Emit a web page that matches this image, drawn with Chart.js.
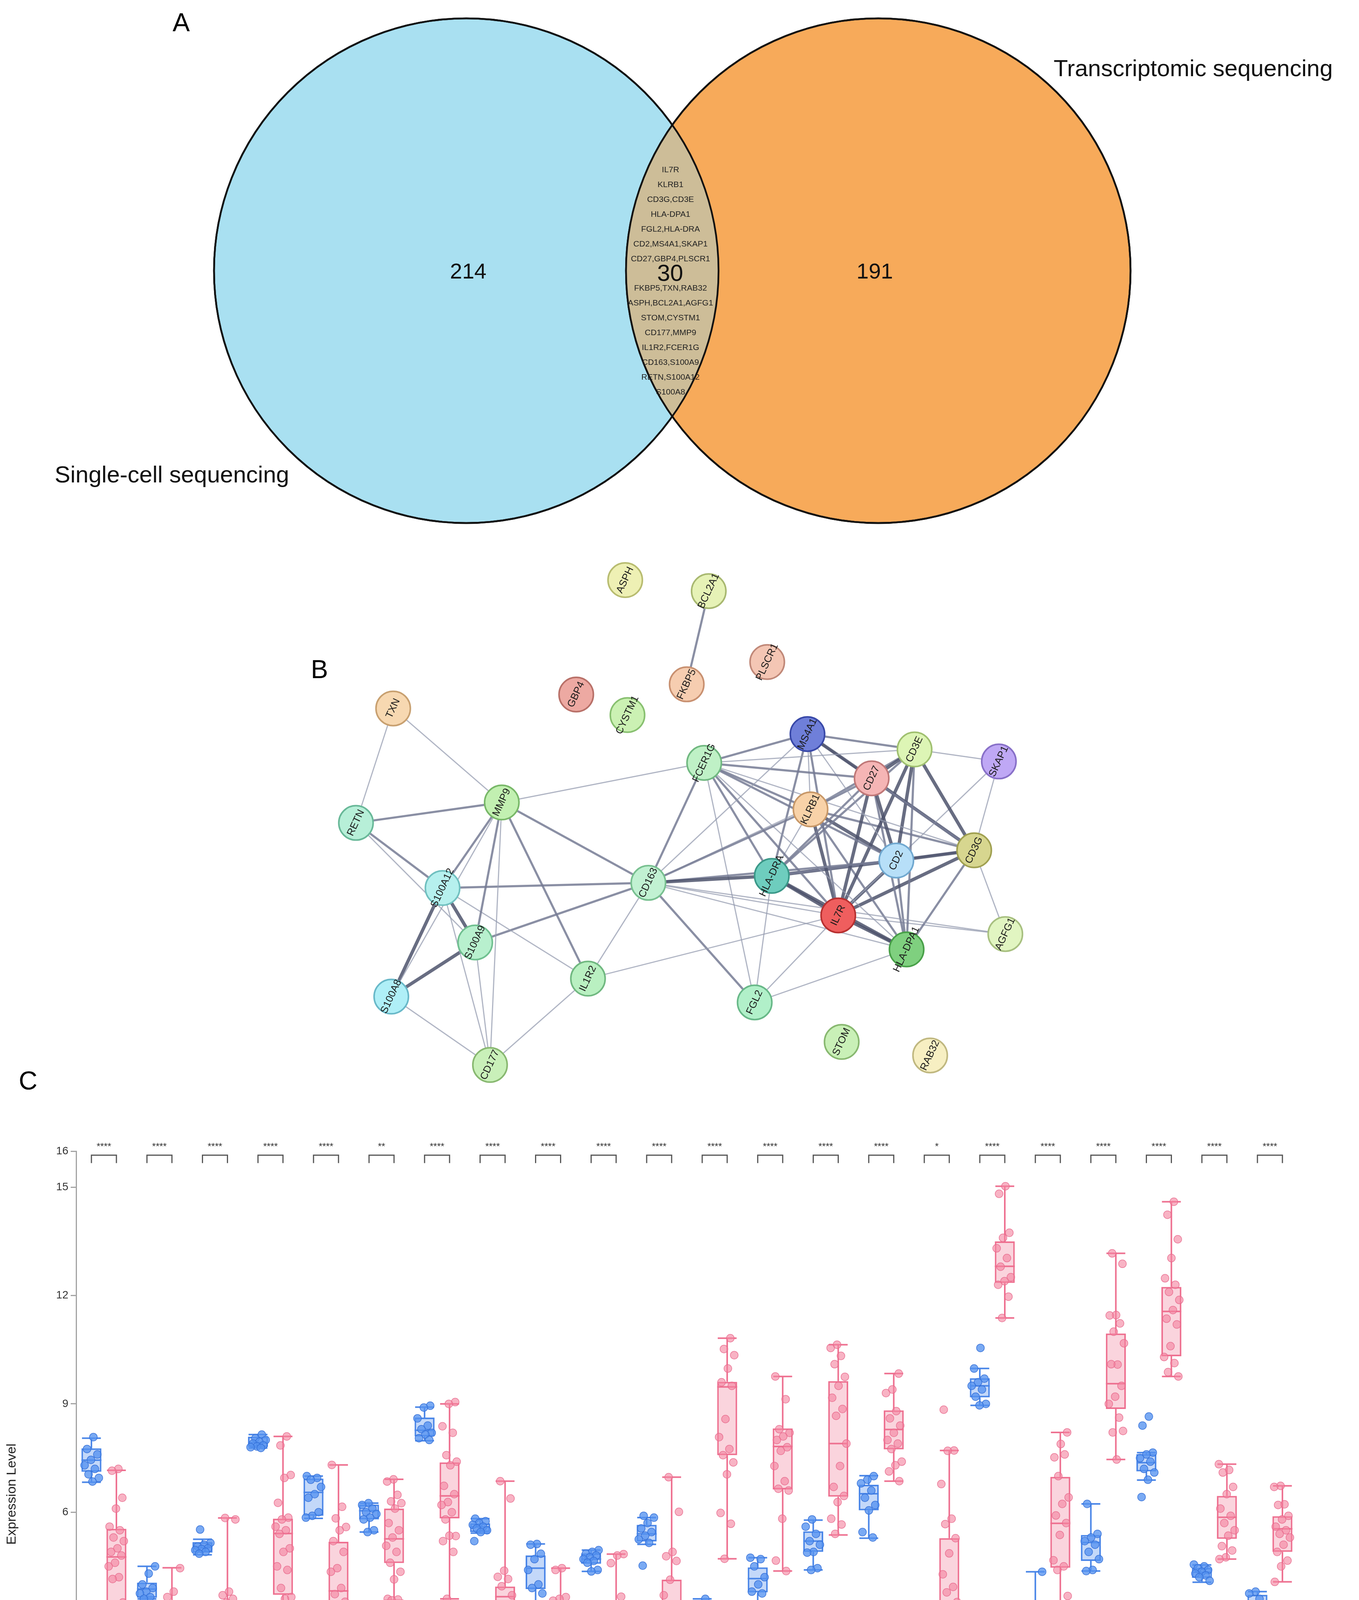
<!DOCTYPE html>
<html>
<head>
<meta charset="utf-8">
<script src="https://cdn.jsdelivr.net/npm/chart.js@4.4.1/dist/chart.umd.min.js"></script>
<style>
  body { margin: 0; background: #fff; width: 3480px; height: 4878px; position: relative; overflow: hidden;
         font-family: "Liberation Sans", Arial, sans-serif; }
  .panel { position: absolute; left: 0; width: 3480px; }
  .letter { position: absolute; font-size: 66px; color: #000; line-height: 1; z-index: 5; }
  .legend { position: absolute; left: 3314px; font-size: 26px; color: #222; z-index: 5; }
  .legend div { height: 38px; display: flex; align-items: center; }
  .legend span.sw { display: inline-block; width: 24px; height: 20px; margin-right: 14px; }
</style>
</head>
<body>
<div class="letter" style="left:442px;top:24px">A</div>
<div class="letter" style="left:796px;top:1680px">B</div>
<div class="letter" style="left:48px;top:2733px">C</div>

<div class="panel" style="top:0;height:1380px"><canvas id="venn"></canvas></div>
<div class="panel" style="top:1380px;height:1500px"><canvas id="network"></canvas></div>
<div class="panel" style="top:2880px;height:1998px"><canvas id="box"></canvas></div>

<div class="legend" style="top:4568px">
  <div><span class="sw" style="background:#8db7f3;border:5px solid #3f7fe6"></span>NC</div>
  <div><span class="sw" style="background:#f7b0c1;border:5px solid #ee6f8f"></span>SEPSIS</div>
</div>

<script>
Chart.defaults.font.family = "'Liberation Sans', Arial, sans-serif";

// ---------- Panel A: Venn ----------
const vennSetLabels = ["Single-cell sequencing", "Transcriptomic sequencing"];
const vennCounts = [214, 191, 30];
const overlapGenesTop = ["IL7R", "KLRB1", "CD3G,CD3E", "HLA-DPA1", "FGL2,HLA-DRA", "CD2,MS4A1,SKAP1", "CD27,GBP4,PLSCR1"];
const overlapGenesBottom = ["FKBP5,TXN,RAB32", "ASPH,BCL2A1,AGFG1", "STOM,CYSTM1", "CD177,MMP9", "IL1R2,FCER1G",
                            "CD163,S100A9", "RETN,S100A12", "S100A8"];

// ---------- Panel B: network ----------
const nodeNames = ["ASPH", "BCL2A1", "PLSCR1", "FKBP5", "GBP4", "CYSTM1", "TXN", "MS4A1", "CD3E", "SKAP1",
  "FCER1G", "CD27", "KLRB1", "MMP9", "RETN", "CD3G", "CD2", "HLA-DRA", "CD163", "S100A12",
  "IL7R", "S100A9", "AGFG1", "HLA-DPA1", "IL1R2", "S100A8", "FGL2", "STOM", "RAB32", "CD177"];
const nodeX = [1597, 1817, 1971, 1759, 1468, 1603, 986, 2077, 2359, 2581,
  1805, 2246, 2085, 1272, 888, 2516, 2311, 1983, 1658, 1116,
  2158, 1202, 2598, 2338, 1499, 981, 1938, 2167, 2400, 1241];
const nodeY = [1441, 1471, 1665, 1726, 1754, 1810, 1792, 1862, 1904, 1937,
  1941, 1983, 2068, 2049, 2105, 2180, 2208, 2250, 2269, 2283,
  2358, 2432, 2409, 2451, 2531, 2580, 2596, 2704, 2741, 2767];
const nodeFill = ["#eef0b4", "#e6f2b6", "#f4c6b4", "#f6cdb0", "#eda9a2", "#cbf1b3", "#f7d8b1", "#6f7fd9", "#ddf5b5", "#bfa8f5",
  "#bff1c6", "#f5b5b5", "#f8d2a8", "#c2f0b1", "#b7efd8", "#d7d68f", "#b7dff8", "#6ecdbe", "#c1f1d2", "#b6f0ee",
  "#ef5e5e", "#b8f0ce", "#e1f5c1", "#7fd07f", "#b9f0c1", "#afeff7", "#b1f0c9", "#c9f0b7", "#f7efc2", "#c9f0b9"];
const nodeStroke = ["#b8bc70", "#a8b870", "#c08878", "#c89070", "#b87068", "#88c070", "#c8a070", "#3848a8", "#a0c070", "#8870c8",
  "#70b880", "#c07878", "#c89868", "#78b868", "#68b898", "#a0a050", "#70a8d0", "#3a9888", "#78c090", "#70c0c0",
  "#b83030", "#70c090", "#a8c080", "#48a048", "#70b880", "#68b8c8", "#68b888", "#88b870", "#c0b880", "#88b870"];
const edges = [
  ["BCL2A1", "FKBP5", 2],
  ["TXN", "RETN", 1], ["TXN", "MMP9", 1],
  ["RETN", "MMP9", 2], ["RETN", "S100A12", 2], ["RETN", "S100A9", 1],
  ["MMP9", "S100A12", 2], ["MMP9", "S100A9", 2], ["MMP9", "S100A8", 1], ["MMP9", "IL1R2", 2],
  ["MMP9", "CD163", 2], ["MMP9", "FCER1G", 1], ["MMP9", "CD177", 1],
  ["S100A12", "CD163", 2], ["S100A12", "S100A9", 3], ["S100A12", "S100A8", 3], ["S100A12", "IL1R2", 1], ["S100A12", "CD177", 1],
  ["S100A9", "S100A8", 3], ["S100A9", "CD163", 2], ["S100A9", "CD177", 1],
  ["S100A8", "CD177", 1],
  ["IL1R2", "CD177", 1], ["IL1R2", "CD163", 1], ["IL1R2", "IL7R", 1],
  ["CD163", "FCER1G", 2], ["CD163", "HLA-DRA", 3], ["CD163", "CD2", 2], ["CD163", "KLRB1", 2], ["CD163", "CD27", 1],
  ["CD163", "IL7R", 1], ["CD163", "HLA-DPA1", 1], ["CD163", "FGL2", 2], ["CD163", "AGFG1", 1], ["CD163", "MS4A1", 1],
  ["FCER1G", "MS4A1", 2], ["FCER1G", "CD3E", 1], ["FCER1G", "CD27", 2], ["FCER1G", "KLRB1", 2], ["FCER1G", "HLA-DRA", 2],
  ["FCER1G", "IL7R", 2], ["FCER1G", "CD2", 2], ["FCER1G", "CD3G", 1], ["FCER1G", "FGL2", 1], ["FCER1G", "HLA-DPA1", 1],
  ["MS4A1", "CD3E", 2], ["MS4A1", "CD27", 3], ["MS4A1", "KLRB1", 1], ["MS4A1", "HLA-DRA", 2], ["MS4A1", "IL7R", 2],
  ["MS4A1", "CD2", 1], ["MS4A1", "CD3G", 2],
  ["CD3E", "SKAP1", 1], ["CD3E", "CD27", 3], ["CD3E", "KLRB1", 2], ["CD3E", "CD2", 3], ["CD3E", "CD3G", 3],
  ["CD3E", "IL7R", 3], ["CD3E", "HLA-DRA", 2], ["CD3E", "HLA-DPA1", 2],
  ["SKAP1", "CD3G", 1], ["SKAP1", "IL7R", 1],
  ["CD27", "KLRB1", 2], ["CD27", "CD2", 3], ["CD27", "CD3G", 3], ["CD27", "IL7R", 3], ["CD27", "HLA-DRA", 2], ["CD27", "HLA-DPA1", 2],
  ["KLRB1", "CD2", 3], ["KLRB1", "CD3G", 2], ["KLRB1", "IL7R", 3], ["KLRB1", "HLA-DRA", 1], ["KLRB1", "HLA-DPA1", 2],
  ["CD3G", "CD2", 3], ["CD3G", "IL7R", 3], ["CD3G", "HLA-DRA", 2], ["CD3G", "HLA-DPA1", 2], ["CD3G", "AGFG1", 1],
  ["CD2", "HLA-DRA", 3], ["CD2", "IL7R", 3], ["CD2", "HLA-DPA1", 2],
  ["HLA-DRA", "IL7R", 3], ["HLA-DRA", "HLA-DPA1", 3], ["HLA-DRA", "FGL2", 1],
  ["IL7R", "HLA-DPA1", 3], ["IL7R", "FGL2", 1], ["IL7R", "AGFG1", 1],
  ["HLA-DPA1", "FGL2", 1]
];

// ---------- Panel C: box plots ----------
const genes = ["IL7R", "KLRB1", "CD3G", "CD3E", "HLA-DPA1", "FGL2", "HLA-DRA", "CD2", "MS4A1", "SKAP1", "CD27",
  "CD177", "MMP9", "IL1R2", "FCER1G", "CD163", "S100A9", "RETN", "S100A12", "S100A8", "AGFG1", "TXN"];
const significance = ["****", "****", "****", "****", "****", "**", "****", "****", "****", "****", "****",
  "****", "****", "****", "****", "*", "****", "****", "****", "****", "****", "****"];
const yTicks = [-3, 0, 3, 6, 9, 12, 15, 16];

const ncMin = [6.83, 3.6, 4.82, 7.78, 5.83, 5.45, 7.98, 5.42, 3.19, 4.36, 5.11, -0.01, 3.12, 4.4, 5.28, 2.58, 8.96, -0.54, 4.37, 6.89, 4.06, 2.92];
const ncQ1 = [7.12, 3.63, 4.88, 7.81, 5.9, 5.8, 8.1, 5.45, 3.87, 4.57, 5.19, 0.65, 3.78, 4.9, 6.05, 2.69, 9.18, 0.38, 4.65, 7.13, 4.18, 3.0];
const ncMed = [7.44, 3.87, 5.02, 7.93, 6.55, 6.04, 8.27, 5.59, 4.45, 4.7, 5.4, 1.43, 4.16, 5.2, 6.51, 2.97, 9.5, 0.97, 5.16, 7.37, 4.34, 3.26];
const ncQ3 = [7.77, 4.05, 5.17, 8.09, 6.93, 6.21, 8.62, 5.69, 4.8, 4.86, 5.65, 2.65, 4.47, 5.47, 6.76, 3.16, 9.71, 3.19, 5.37, 7.61, 4.46, 3.71];
const ncMax = [8.05, 4.5, 5.25, 8.15, 7.0, 6.25, 8.91, 5.82, 5.12, 4.95, 5.85, 3.6, 4.74, 5.78, 7.01, 3.45, 9.98, 4.35, 6.23, 7.65, 4.54, 3.8];

const sepMin = [0.54, -1.43, -2.55, 0.95, 1.94, 3.56, 3.6, -0.19, -0.55, -0.18, -0.55, 4.71, 4.37, 5.37, 6.86, 0.19, 11.38, 1.99, 7.46, 9.76, 4.7, 4.07];
const sepQ1 = [3.43, -0.01, 0.62, 3.71, 3.08, 4.59, 5.83, 1.77, 1.13, 1.68, 1.85, 7.58, 6.63, 6.43, 7.74, 3.05, 12.35, 4.46, 8.86, 10.32, 5.26, 4.9];
const sepMed = [4.76, 0.89, 2.48, 5.41, 3.82, 5.26, 6.45, 3.66, 1.68, 2.43, 2.92, 9.47, 7.82, 7.9, 8.29, 3.51, 12.81, 5.69, 9.56, 11.56, 5.86, 5.54];
const sepQ3 = [5.54, 2.08, 3.43, 5.82, 5.18, 6.1, 7.38, 3.94, 3.0, 3.12, 4.13, 9.61, 8.32, 9.63, 8.82, 5.28, 13.5, 6.98, 10.95, 12.24, 6.45, 5.89];
const sepMax = [7.16, 4.46, 5.84, 8.1, 7.31, 6.91, 9.0, 6.86, 4.45, 4.84, 6.97, 10.82, 9.76, 10.64, 9.84, 7.71, 15.03, 8.21, 13.17, 14.6, 7.33, 6.73];

const ncPoints = [
  [8.08, 7.75, 7.6, 7.45, 7.3, 7.2, 7.05, 6.95, 6.85],
  [4.5, 4.3, 4.0, 3.9, 3.8, 3.75, 3.65, 3.6, 2.95],
  [5.52, 5.15, 5.1, 5.05, 5.0, 4.98, 4.95, 4.9, 4.85],
  [8.15, 8.05, 8.0, 7.95, 7.9, 7.85, 7.82, 7.8, 7.78],
  [7.0, 6.95, 6.9, 6.7, 6.5, 6.4, 6.0, 5.9, 5.85],
  [6.25, 6.2, 6.1, 6.0, 5.95, 5.85, 5.8, 5.5, 5.45],
  [8.95, 8.9, 8.6, 8.4, 8.3, 8.2, 8.15, 8.05, 8.0],
  [5.82, 5.75, 5.7, 5.65, 5.6, 5.55, 5.5, 5.45, 5.2],
  [5.12, 5.1, 4.85, 4.7, 4.4, 4.0, 3.9, 3.75, 3.19],
  [4.95, 4.9, 4.85, 4.8, 4.75, 4.7, 4.65, 4.6, 4.4, 4.36],
  [5.9, 5.85, 5.7, 5.55, 5.45, 5.35, 5.25, 5.15, 4.52],
  [3.6, 3.33, 2.65, 1.8, 1.2, 0.65, 0.61, 0.28, -0.01],
  [4.74, 4.7, 4.5, 4.2, 4.0, 3.8, 3.75, 3.12],
  [5.8, 5.6, 5.4, 5.2, 5.1, 4.9, 4.88, 4.45, 4.4],
  [7.0, 6.9, 6.8, 6.6, 6.4, 6.2, 6.05, 5.45, 5.3],
  [3.45, 3.3, 3.2, 3.0, 2.9, 2.7, 2.6, 2.58, 2.0],
  [10.55, 9.98, 9.7, 9.6, 9.5, 9.4, 9.2, 9.0, 8.96],
  [4.35, 3.2, 3.15, 2.79, 1.0, 0.83, 0.54, -0.16, -0.54],
  [6.23, 5.4, 5.3, 5.2, 5.1, 4.9, 4.7, 4.4, 4.37],
  [8.65, 8.4, 7.65, 7.6, 7.5, 7.4, 7.2, 7.1, 6.9, 6.42],
  [4.55, 4.5, 4.45, 4.4, 4.35, 4.3, 4.25, 4.2, 4.1],
  [3.8, 3.75, 3.6, 3.4, 3.3, 3.2, 3.1, 3.0, 2.95, 2.9]
];
const sepPoints = [
  [7.2, 7.15, 6.4, 6.1, 5.6, 5.5, 5.3, 5.2, 5.0, 4.9, 4.8, 4.6, 4.5, 4.2, 4.15, 3.5, 2.67, 2.41, 1.66, 1.55, 1.23, 0.55],
  [4.45, 3.8, 3.65, 2.95, 2.65, 2.1, 2.05, 1.7, 1.6, 1.5, 1.3, 1.0, 0.8, 0.4, 0.2, 0.05, 0.0, -0.45, -0.6, -0.8, -0.9, -1.43],
  [5.84, 5.8, 3.8, 3.7, 3.6, 3.5, 3.2, 3.0, 2.8, 2.5, 2.3, 2.1, 1.9, 1.7, 1.5, 0.7, 0.5, 0.4, 0.3, -0.8, -0.95, -2.55],
  [8.1, 7.85, 7.03, 6.95, 6.26, 5.85, 5.8, 5.6, 5.5, 5.4, 5.0, 4.9, 4.5, 4.4, 3.9, 3.65, 3.6, 2.67, 2.6, 2.5, 1.86, 0.95],
  [7.31, 6.15, 5.83, 5.59, 5.5, 5.2, 4.9, 4.45, 4.35, 3.9, 3.73, 3.52, 3.22, 3.1, 2.94, 2.85, 2.67, 2.29, 1.94],
  [6.91, 6.85, 6.48, 6.3, 6.25, 6.1, 5.7, 5.5, 5.3, 5.07, 4.9, 4.6, 4.35, 4.14, 3.6, 3.58, 3.56],
  [9.05, 9.0, 8.38, 8.2, 7.58, 7.4, 7.3, 6.73, 6.5, 6.28, 6.2, 6.0, 5.8, 5.34, 5.35, 5.2, 4.9, 3.6],
  [6.86, 6.38, 4.38, 4.21, 4.15, 3.95, 3.7, 3.18, 2.8, 2.5, 1.8, 1.75, 1.36, 1.01, 0.53, 0.39, -0.19],
  [4.45, 4.4, 3.65, 3.6, 3.55, 3.0, 2.95, 2.7, 2.6, 2.3, 1.85, 1.7, 1.4, 1.3, 1.15, 1.1, 0.9, 0.8, 0.2, -0.55],
  [4.84, 4.8, 4.59, 3.66, 3.2, 3.15, 3.0, 2.8, 2.7, 2.6, 2.4, 2.2, 1.9, 1.75, 1.7, 0.81, 0.85, 0.69, 0.25, -0.18],
  [6.97, 6.01, 4.9, 4.78, 4.65, 4.13, 3.7, 3.37, 3.29, 2.92, 2.55, 2.39, 2.05, 1.85, 1.64, 1.31, 0.9, 0.24, 0.12, -0.55],
  [10.82, 10.52, 10.35, 9.98, 9.6, 9.5, 8.58, 8.08, 7.75, 7.58, 7.38, 7.05, 5.98, 5.68, 4.71],
  [9.76, 9.13, 8.3, 8.2, 8.1, 8.0, 7.8, 7.7, 7.28, 6.86, 6.65, 6.6, 5.82, 4.66, 4.37],
  [10.64, 10.55, 10.33, 10.1, 9.75, 9.5, 9.17, 8.86, 8.67, 7.9, 7.28, 6.7, 6.45, 6.28, 5.82, 5.66, 5.4],
  [9.84, 9.4, 9.3, 8.8, 8.6, 8.4, 8.2, 8.0, 7.9, 7.75, 7.4, 7.3, 7.13, 6.86],
  [8.84, 7.71, 7.7, 6.78, 5.82, 5.67, 5.28, 4.86, 4.28, 3.93, 3.78, 3.51, 3.2, 3.05, 2.43, 2.28, 2.01, 1.94, 0.19],
  [15.03, 14.82, 13.74, 13.6, 13.31, 13.04, 12.8, 12.51, 12.4, 12.3, 11.97, 11.38],
  [8.21, 7.89, 7.52, 7.6, 7.0, 6.41, 6.23, 5.91, 5.7, 5.37, 4.67, 4.5, 4.4, 3.68, 3.35, 3.06, 2.0, 2.05],
  [13.17, 12.88, 11.46, 11.45, 11.23, 11.0, 10.68, 10.09, 10.1, 9.5, 9.2, 9.0, 8.62, 8.21, 8.25, 7.46],
  [14.6, 14.24, 13.56, 13.04, 12.48, 12.3, 12.1, 11.88, 11.6, 11.36, 11.2, 10.6, 10.3, 10.13, 9.88, 9.76],
  [7.33, 7.17, 7.1, 6.7, 6.5, 6.1, 5.9, 5.7, 5.5, 5.35, 5.06, 4.94, 4.75, 4.7],
  [6.73, 6.7, 6.22, 6.2, 5.9, 5.8, 5.6, 5.5, 5.4, 5.3, 5.1, 4.9, 4.66, 4.5, 4.07]
];

const common = {
  animation: false, responsive: true, maintainAspectRatio: false, devicePixelRatio: 1, events: [],
  plugins: { legend: { display: false }, tooltip: { enabled: false } }
};

// ===== Venn =====
const vennCx = [1194, 2249], vennCy = [693, 693], vennR = 646;
const vennColors = ["#a9e0f1", "#f7aa5a"], overlapColor = "#cdbd98";

const vennPlugin = {
  id: "vennText",
  afterDatasetsDraw(chart) {
    const { ctx, scales: { x, y } } = chart;
    const [a, b] = chart.getDatasetMeta(0).data;
    const r = a.options.radius;
    ctx.save();
    ctx.beginPath(); ctx.arc(a.x, a.y, r, 0, Math.PI * 2); ctx.clip();
    ctx.beginPath(); ctx.arc(b.x, b.y, r, 0, Math.PI * 2);
    ctx.fillStyle = overlapColor; ctx.fill();
    ctx.restore();
    ctx.save();
    ctx.lineWidth = 4.5; ctx.strokeStyle = "#111";
    [a, b].forEach(p => { ctx.beginPath(); ctx.arc(p.x, p.y, r, 0, Math.PI * 2); ctx.stroke(); });

    ctx.fillStyle = "#111"; ctx.textAlign = "center"; ctx.textBaseline = "middle";
    ctx.font = "56px 'Liberation Sans', Arial";
    ctx.fillText(String(vennCounts[0]), x.getPixelForValue(1199), y.getPixelForValue(698));
    ctx.fillText(String(vennCounts[1]), x.getPixelForValue(2240), y.getPixelForValue(698));
    ctx.font = "60px 'Liberation Sans', Arial";
    ctx.fillText(String(vennCounts[2]), x.getPixelForValue(1716), y.getPixelForValue(702));

    ctx.font = "21px 'Liberation Sans', Arial"; ctx.fillStyle = "#222";
    overlapGenesTop.forEach((t, k) => ctx.fillText(t, x.getPixelForValue(1717), y.getPixelForValue(435 + 38 * k)));
    overlapGenesBottom.forEach((t, k) => ctx.fillText(t, x.getPixelForValue(1717), y.getPixelForValue(738 + 38 * k)));

    ctx.font = "60px 'Liberation Sans', Arial"; ctx.fillStyle = "#111"; ctx.textAlign = "left";
    ctx.fillText(vennSetLabels[0], x.getPixelForValue(140), y.getPixelForValue(1218));
    ctx.fillText(vennSetLabels[1], x.getPixelForValue(2698), y.getPixelForValue(178));
    ctx.restore();
  }
};

new Chart(document.getElementById("venn"), {
  type: "scatter",
  data: {
    datasets: [{
      data: vennCx.map((cx, i) => ({ x: cx, y: vennCy[i] })),
      pointRadius: c => { const s = c.chart.scales.x; return s.getPixelForValue(vennR) - s.getPixelForValue(0); },
      pointBackgroundColor: vennColors,
      pointBorderColor: "#111",
      pointBorderWidth: 4.5
    }]
  },
  options: {
    ...common,
    layout: { padding: 0 },
    scales: {
      x: { type: "linear", min: 0, max: 3480, display: false },
      y: { type: "linear", min: 0, max: 1380, reverse: true, display: false }
    }
  },
  plugins: [vennPlugin]
});

// ===== Network =====
const idx = name => nodeNames.indexOf(name);
const edgeStyle = {
  1: { w: 3, c: "rgba(150,156,176,0.75)" },
  2: { w: 5.5, c: "rgba(118,123,148,0.85)" },
  3: { w: 8.5, c: "rgba(78,83,108,0.85)" }
};
const edgeSets = edges.map(([s, t, wgt]) => ({
  type: "line",
  data: [{ x: nodeX[idx(s)], y: nodeY[idx(s)] }, { x: nodeX[idx(t)], y: nodeY[idx(t)] }],
  borderColor: edgeStyle[wgt].c,
  borderWidth: edgeStyle[wgt].w,
  pointRadius: 0,
  order: 2
}));

const nodeLabelPlugin = {
  id: "nodeLabels",
  afterDatasetsDraw(chart) {
    const { ctx } = chart;
    const meta = chart.getDatasetMeta(chart.data.datasets.length - 1);
    ctx.save();
    ctx.font = "26px 'Liberation Sans', Arial";
    ctx.fillStyle = "#1a1a1a"; ctx.textAlign = "center"; ctx.textBaseline = "middle";
    meta.data.forEach((p, i) => {
      ctx.save();
      ctx.translate(p.x, p.y);
      ctx.rotate(-65 * Math.PI / 180);
      ctx.fillText(nodeNames[i], 0, 0);
      ctx.restore();
    });
    ctx.restore();
  }
};

new Chart(document.getElementById("network"), {
  type: "scatter",
  data: {
    datasets: [...edgeSets, {
      data: nodeNames.map((n, i) => ({ x: nodeX[i], y: nodeY[i] })),
      pointRadius: 44,
      pointBackgroundColor: nodeFill,
      pointBorderColor: nodeStroke,
      pointBorderWidth: 4,
      order: 0
    }]
  },
  options: {
    ...common,
    layout: { padding: 0 },
    scales: {
      x: { type: "linear", min: 0, max: 3480, display: false },
      y: { type: "linear", min: 1380, max: 2880, reverse: true, display: false }
    }
  },
  plugins: [nodeLabelPlugin]
});

// ===== Box plots =====
const ncShift = -0.225, sepShift = 0.225, capHalf = 0.17, boxHalf = 0.18;
const ncLine = "#4a86e8", sepLine = "#ee7090";

function whiskers(shift, mins, q1s, q3s, maxs) {
  const pts = [];
  genes.forEach((g, i) => {
    const c = i + shift;
    pts.push({ x: c, y: q3s[i] }, { x: c, y: maxs[i] }, { x: c, y: null },
             { x: c - capHalf, y: maxs[i] }, { x: c + capHalf, y: maxs[i] }, { x: c, y: null },
             { x: c, y: q1s[i] }, { x: c, y: mins[i] }, { x: c, y: null },
             { x: c - capHalf, y: mins[i] }, { x: c + capHalf, y: mins[i] }, { x: c, y: null });
  });
  return pts;
}
function medians(shift, meds) {
  const pts = [];
  genes.forEach((g, i) => {
    const c = i + shift;
    pts.push({ x: c - boxHalf, y: meds[i] }, { x: c + boxHalf, y: meds[i] }, { x: c, y: null });
  });
  return pts;
}
function jittered(shift, groups) {
  const pts = [];
  groups.forEach((vals, i) => vals.forEach((v, k) => {
    const off = (((k + 1) * 0.618034 + i * 0.37) % 1 - 0.5) * 0.30;
    pts.push({ x: i + shift + off, y: v });
  }));
  return pts;
}
const brackets = [];
genes.forEach((g, i) => {
  brackets.push({ x: i + ncShift, y: 15.67 }, { x: i + ncShift, y: 15.89 },
                { x: i + sepShift, y: 15.89 }, { x: i + sepShift, y: 15.67 }, { x: i, y: null });
});

const starPlugin = {
  id: "stars",
  afterDatasetsDraw(chart) {
    const { ctx, scales } = chart;
    ctx.save();
    ctx.font = "24px 'Liberation Sans', Arial";
    ctx.fillStyle = "#333"; ctx.textAlign = "center"; ctx.textBaseline = "middle";
    significance.forEach((s, i) => {
      ctx.fillText(s, scales.x.getPixelForValue(i), scales.y.getPixelForValue(16.12));
    });
    ctx.restore();
  }
};

new Chart(document.getElementById("box"), {
  type: "bar",
  data: {
    datasets: [
      {
        label: "NC", data: genes.map((g, i) => ({ x: i + ncShift, y: [ncQ1[i], ncQ3[i]] })),
        backgroundColor: "rgba(96,152,238,0.38)", borderColor: ncLine, borderWidth: 4, borderSkipped: false,
        grouped: false, categoryPercentage: 1.0, barPercentage: 0.8, order: 3
      },
      {
        label: "SEPSIS", data: genes.map((g, i) => ({ x: i + sepShift, y: [sepQ1[i], sepQ3[i]] })),
        backgroundColor: "rgba(242,135,162,0.36)", borderColor: sepLine, borderWidth: 4, borderSkipped: false,
        grouped: false, categoryPercentage: 1.0, barPercentage: 0.8, order: 3
      },
      { type: "line", data: whiskers(ncShift, ncMin, ncQ1, ncQ3, ncMax),
        borderColor: ncLine, borderWidth: 4, pointRadius: 0, spanGaps: false, order: 4 },
      { type: "line", data: whiskers(sepShift, sepMin, sepQ1, sepQ3, sepMax),
        borderColor: sepLine, borderWidth: 4, pointRadius: 0, spanGaps: false, order: 4 },
      { type: "line", data: medians(ncShift, ncMed),
        borderColor: ncLine, borderWidth: 4, pointRadius: 0, spanGaps: false, order: 1 },
      { type: "line", data: medians(sepShift, sepMed),
        borderColor: sepLine, borderWidth: 4, pointRadius: 0, spanGaps: false, order: 1 },
      { type: "scatter", data: jittered(ncShift, ncPoints),
        pointRadius: 10, backgroundColor: "rgba(84,146,240,0.78)", borderColor: "rgba(50,110,215,0.9)", borderWidth: 1.5, order: 0 },
      { type: "scatter", data: jittered(sepShift, sepPoints),
        pointRadius: 10, backgroundColor: "rgba(243,132,160,0.62)", borderColor: "rgba(232,105,140,0.85)", borderWidth: 1.5, order: 0 },
      { type: "line", data: brackets,
        borderColor: "#555", borderWidth: 3, pointRadius: 0, spanGaps: false, order: 1 }
    ]
  },
  options: {
    ...common,
    layout: { padding: { left: 0, right: 157, top: 67, bottom: 0 } },
    scales: {
      x: {
        type: "linear", min: -0.5, max: 21.5, offset: false,
        afterBuildTicks: s => { s.ticks = genes.map((g, i) => ({ value: i })); },
        afterFit: s => { s.height = 175; },
        border: { color: "#a3a3a3", width: 3 },
        grid: { display: false, drawTicks: false, offset: false },
        ticks: { autoSkip: false, minRotation: 55, maxRotation: 55, font: { size: 29 }, color: "#222", padding: 14,
                 callback: v => genes[v] }
      },
      y: {
        min: -3, max: 16,
        afterBuildTicks: s => { s.ticks = yTicks.map(v => ({ value: v })); },
        afterFit: s => { s.width = 195; },
        border: { color: "#a3a3a3", width: 3 },
        grid: { drawOnChartArea: false, drawTicks: true, tickLength: 14, color: "#a3a3a3", lineWidth: 3 },
        ticks: { font: { size: 28 }, color: "#333", padding: 6 },
        title: { display: true, text: "Expression Level", font: { size: 34 }, color: "#222", padding: { top: 10, bottom: 0 } }
      }
    }
  },
  plugins: [starPlugin]
});
</script>
</body>
</html>
